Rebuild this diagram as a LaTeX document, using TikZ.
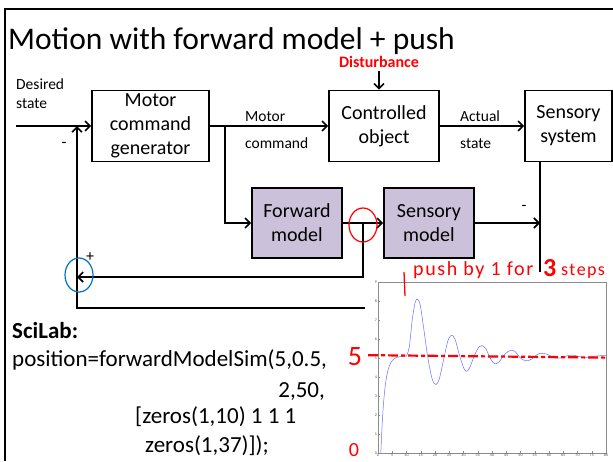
\documentclass[tikz,border=0pt]{standalone}
\usepackage{fontspec}
\setmainfont{Carlito}
\newfontfamily\handfont[LetterSpace=8]{Carlito}
\usetikzlibrary{arrows.meta,shapes.geometric}
\definecolor{boxpurple}{HTML}{CCC1DA}
\definecolor{markred}{HTML}{FF0000}
\definecolor{ringblue}{HTML}{0070C0}
\definecolor{plotblue}{HTML}{6E6EFF}
\definecolor{axisgray}{HTML}{8C8C8C}

\begin{document}
\begin{tikzpicture}[x=1pt, y=-1pt]
    % Define styles
    \tikzstyle{block}=[rectangle, draw, line width=1.6pt, align=center, font=\fontsize{20}{24}\selectfont, inner sep=0pt]
    \tikzstyle{model}=[block, fill=boxpurple]
    \tikzstyle{signal}=[font=\fontsize{15.5}{19}\selectfont, inner sep=0pt]
    \tikzstyle{arrow}=[-{Straight Barb[length=5pt, width=10pt]}, line width=1.6pt]
    \tikzstyle{code}=[font=\fontsize{23}{28}\selectfont, inner sep=0pt, anchor=base west]
    \tikzstyle{ring}=[ellipse, draw, line width=1.2pt, minimum width=28pt, minimum height=34pt, inner sep=0pt]
    \tikzstyle{tick}=[font=\fontsize{4}{4}\selectfont, text=black!70, inner sep=1pt]

    \useasboundingbox (0,0) rectangle (613,461);

    % Slide frame and title
    \draw[line width=1.5pt] (613,9) -- (5,9) -- (5,461);
    \node[anchor=base west, inner sep=0pt, font=\fontsize{31.5}{36}\selectfont] (title) at (8,49) {Motion with forward model + push};
    \node[text=markred, font=\bfseries\fontsize{16}{18}\selectfont] (dist) at (379,62) {Disturbance};

    % Blocks
    \node[block, minimum width=117pt, minimum height=71pt] (mcg) at (150.5,126) {Motor\\command\\generator};
    \node[block, minimum width=110pt, minimum height=71pt] (ctrl) at (384,126) {Controlled\\object};
    \node[block, minimum width=87pt, minimum height=71pt] (sensys) at (568.5,126) {Sensory\\system};
    \node[model, minimum width=90pt, minimum height=70pt] (fwd) at (297,223) {Forward\\model};
    \node[model, minimum width=90pt, minimum height=70pt] (senmod) at (429,223) {Sensory\\model};

    % Signal names
    \node[signal, align=left, anchor=north west] (desired) at (16,79) {Desired\\state};
    \node[signal, anchor=base west] (motorlbl) at (245,121) {Motor};
    \node[signal, anchor=base west] (cmdlbl) at (245,148) {command};
    \node[signal, anchor=base west] (actlbl) at (460,121) {Actual};
    \node[signal, anchor=base west] (statelbl) at (460,148) {state};

    % Junctions
    \coordinate (input) at (16,126);
    \coordinate (sumtop) at (77,126);
    \coordinate (split) at (225,126);
    \coordinate (tap) at (363,223);
    \coordinate (sumright) at (540,223);
    \coordinate (loopleft) at (77,308);
    \coordinate (sumleft) at (77,277);

    % Wires
    \draw[arrow] (input) -- (mcg);
    \draw[arrow] (mcg) -- (ctrl);
    \draw[arrow] (ctrl) -- (sensys);
    \draw[arrow] (dist) -- (dist |- ctrl.north);
    \draw[arrow] (split) |- (fwd);
    \draw[arrow] (fwd) -- (senmod);
    \draw[arrow] (senmod) -- (sumright);
    \draw[arrow] (sensys.south -| sumright) |- (loopleft) -- (sumtop);
    \draw[arrow] (tap) |- (sumleft);

    % Signs
    \node[font=\fontsize{16}{16}\selectfont] (minusleft) at (64,145) {-};
    \node[font=\fontsize{16}{16}\selectfont] (minusright) at (524,208) {-};
    \node[font=\fontsize{16}{16}\selectfont] (plusleft) at (90,257) {+};

    % Marks on the loop
    \node[ring, markred] (pushring) at (363,225) {};
    \node[ring, ringblue] (sumring) at (79,275) {};

    % SciLab call
    \node[code] (scilab) at (12,338) {\textbf{SciLab:}};
    \node[code] (call) at (12,366) {position=forwardModelSim(5,0.5,};
    \node[code, anchor=base east] (args) at (325,397) {2,50,};
    \node[code] (pushvec) at (135,423) {[zeros(1,10) 1 1 1};
    \node[code] (tailvec) at (145,452) {zeros(1,37)]);};

    % Simulation plot
    \fill[white] (365,272) rectangle (613,461);
    \begin{scope}[shift={(378,453)}, x=2.85pt, y=19pt]
        \draw[axisgray, line width=0.6pt] (0,0) rectangle (80,9);
        \foreach \k in {0,...,9} {
            \draw[axisgray, line width=0.4pt] (0,\k) -- ++(0.8,0);
            \node[tick, anchor=east] at (0,\k) {\k};
        }
        \foreach \t in {0,5,...,80} {
            \draw[axisgray, line width=0.4pt] (\t,0) -- ++(0,0.12);
            \node[tick, anchor=north] at (\t,0) {\t};
        }
        \draw[plotblue, line width=0.5pt] (1,0) -- plot[domain=1:10, samples=40] (\x, {5.1*(1-exp(-(\x-1)/1.3))})
            -- plot[smooth] coordinates {(10,5.1) (11,5.6) (12,7.0) (13,7.9) (13.8,8.1) (14.8,7.8) (16,6.6)
            (17.5,5.0) (19,3.9) (20.3,3.6) (21.5,3.9) (23,4.9) (24.5,5.9) (25.8,6.2) (27,6.0) (28.5,5.2)
            (30,4.5) (31,4.3) (32.2,4.5) (34,5.2) (35.5,5.6) (36.5,5.65) (37.8,5.5) (39.5,4.95) (41,4.7)
            (42.5,4.8) (44.5,5.2) (46.5,5.4) (48,5.35) (50,5.0) (52,4.85) (54,4.95) (56,5.2) (58,5.25)
            (60,5.15) (62,5.0) (64,5.0) (66,5.1) (68,5.15) (70,5.1) (72,5.03) (74,5.05) (76,5.1) (78,5.12) (80,5.12)};
        \draw[markred, line width=2.2pt, dash pattern=on 10pt off 3pt on 4pt off 3pt] (-3.5,5.15) -- (80,5.02);
    \end{scope}

    % Handwritten notes
    \draw[markred, line width=1.3pt] (404,272) -- (405,296);
    \node[text=markred, anchor=base west, inner sep=0pt, font=\handfont\fontsize{20}{20}\selectfont] (pushnote) at (413,275) {push by 1 for};
    \node[text=markred, anchor=base west, inner sep=0pt, font=\bfseries\fontsize{26}{26}\selectfont] (three) at (543,276) {3};
    \node[text=markred, anchor=base west, inner sep=0pt, font=\handfont\fontsize{18}{18}\selectfont] (stepsnote) at (561,275) {steps};
    \node[text=markred, font=\fontsize{28}{28}\selectfont] (five) at (355,357) {5};
    \node[text=markred, font=\fontsize{20}{20}\selectfont] (zero) at (354,450) {0};
\end{tikzpicture}
\end{document}
